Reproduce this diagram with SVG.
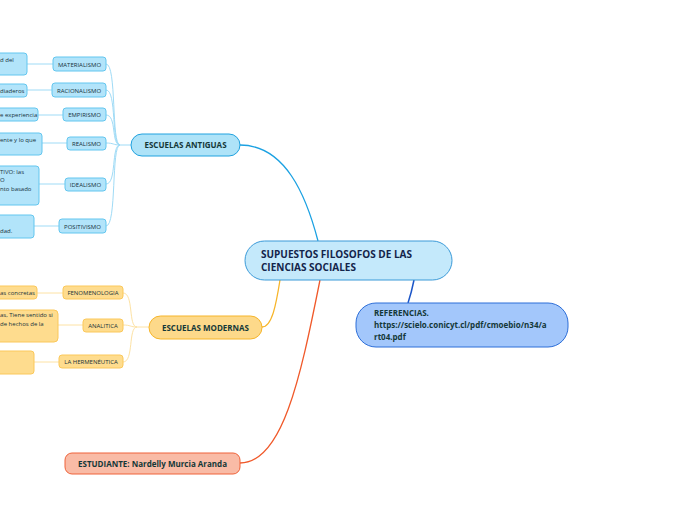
<svg xmlns="http://www.w3.org/2000/svg" width="696" height="520" viewBox="0 0 696 520">
<style>
text{font-family:"Open Sans","Noto Sans","Liberation Sans",sans-serif;fill:#17323a}
.main{font-size:10px;font-weight:bold;fill:#13244a}
.lvl1{font-size:8px;font-weight:bold;fill:#143838}
.sub{font-size:6px;text-anchor:middle}
.leaf{font-size:6px}
.bsub{fill:#b2e4fa;stroke:#63c6ef;stroke-width:1}
.osub{fill:#fedc8e;stroke:#fbc85a;stroke-width:1}
.bc{fill:none;stroke:#9fdbf6;stroke-width:1}
.oc{fill:none;stroke:#fde2a4;stroke-width:1}
</style>
<rect width="696" height="520" fill="#ffffff"/>
<g id="connectors">
<path d="M318,241 C306,195 285,145 240,145" fill="none" stroke="#1ba1e2" stroke-width="1.3"/>
<path d="M280,280 C276,305 272,327 262,327" fill="none" stroke="#f7b52a" stroke-width="1.3"/>
<path d="M320,280 C300,380 282,463 240,463" fill="none" stroke="#f0592a" stroke-width="1.3"/>
<path d="M414,280 C412,290 410,297 408,303" fill="none" stroke="#1c56c8" stroke-width="1.5"/>
<path class="bc" d="M131,145 L120,145"/>
<path class="bc" d="M120,145 C111,145 117,64 106,64"/>
<path class="bc" d="M120,145 C111,145 117,90 106,90"/>
<path class="bc" d="M120,145 C111,145 117,115 106,115"/>
<path class="bc" d="M120,145 C113,145 114,143 106,143"/>
<path class="bc" d="M120,145 C111,145 117,184 106,184"/>
<path class="bc" d="M120,145 C111,145 117,226 106,226"/>
<path class="bc" d="M53,64 L27,64"/>
<path class="bc" d="M52,90 L27,90"/>
<path class="bc" d="M63,115 L38,115"/>
<path class="bc" d="M67,143 L42,143"/>
<path class="bc" d="M65,184 L39,184"/>
<path class="bc" d="M59,226 L34,226"/>
<path class="oc" d="M149,327 L137,327"/>
<path class="oc" d="M137,327 C128,327 134,293 123,293"/>
<path class="oc" d="M137,327 C130,327 131,325 123,325"/>
<path class="oc" d="M137,327 C128,327 134,362 123,362"/>
<path class="oc" d="M63,293 L37,293"/>
<path class="oc" d="M83,325 L58,325"/>
<path class="oc" d="M59,362 L34,362"/>
</g>
<g id="central">
<rect x="245" y="241" width="207" height="39" rx="19.5" fill="#c4e9fb" stroke="#3b9ad8" stroke-width="1"/>
<text class="main" x="261" y="258">SUPUESTOS FILOSOFOS DE LAS</text>
<text class="main" x="261" y="271">CIENCIAS SOCIALES</text>
</g>
<g id="escuelas-antiguas">
<rect x="131" y="134" width="109" height="22" rx="11" fill="#aee3f8" stroke="#20a2df" stroke-width="1"/>
<text class="lvl1" x="185.5" y="148" text-anchor="middle">ESCUELAS ANTIGUAS</text>
</g>
<g id="materialismo"><rect class="bsub" x="53" y="57" width="53" height="14" rx="3"/><text class="sub" x="79.5" y="66.5">MATERIALISMO</text></g>
<g id="racionalismo"><rect class="bsub" x="52" y="83" width="54" height="14" rx="3"/><text class="sub" x="79" y="92.5">RACIONALISMO</text></g>
<g id="empirismo"><rect class="bsub" x="63" y="108" width="43" height="13" rx="3"/><text class="sub" x="84.5" y="117">EMPIRISMO</text></g>
<g id="realismo"><rect class="bsub" x="67" y="137" width="39" height="13" rx="3"/><text class="sub" x="86.5" y="145.5">REALISMO</text></g>
<g id="idealismo"><rect class="bsub" x="65" y="178" width="41" height="13" rx="3"/><text class="sub" x="85.5" y="186.5">IDEALISMO</text></g>
<g id="positivismo"><rect class="bsub" x="59" y="219" width="47" height="14" rx="3"/><text class="sub" x="82.5" y="228.5">POSITIVISMO</text></g>
<g id="leaf-materialismo"><rect class="bsub" x="-60" y="53" width="87" height="22" rx="3"/><text class="leaf" x="0" y="61.5">d del</text></g>
<g id="leaf-racionalismo"><rect class="bsub" x="-60" y="84" width="87" height="13" rx="3"/><text class="leaf" x="0" y="92.5">diaderos</text></g>
<g id="leaf-empirismo"><rect class="bsub" x="-60" y="108" width="98" height="13" rx="3"/><text class="leaf" x="0" y="117">e experiencia</text></g>
<g id="leaf-realismo"><rect class="bsub" x="-60" y="133" width="102" height="22" rx="3"/><text class="leaf" x="0" y="142">ente y lo que</text></g>
<g id="leaf-idealismo"><rect class="bsub" x="-60" y="166" width="99" height="39" rx="3"/><text class="leaf" x="0" y="174">TIVO: las</text><text class="leaf" x="0" y="182">O</text><text class="leaf" x="0" y="191">nto basado</text></g>
<g id="leaf-positivismo"><rect class="bsub" x="-60" y="215" width="94" height="23" rx="3"/><text class="leaf" x="0" y="233">dad.</text></g>
<g id="escuelas-modernas">
<rect x="149" y="316" width="113" height="23" rx="11.5" fill="#fdd98a" stroke="#f6b52b" stroke-width="1"/>
<text class="lvl1" x="205.5" y="331" text-anchor="middle">ESCUELAS MODERNAS</text>
</g>
<g id="fenomenologia"><rect class="osub" x="63" y="286" width="60" height="13" rx="3"/><text class="sub" x="93" y="294.5">FENOMENOLOGIA</text></g>
<g id="analitica"><rect class="osub" x="83" y="319" width="40" height="13" rx="3"/><text class="sub" x="103" y="327.5">ANALITICA</text></g>
<g id="hermeneutica"><rect class="osub" x="59" y="355" width="64" height="13" rx="3"/><text class="sub" x="91" y="363.5">LA HERMENÉUTICA</text></g>
<g id="leaf-fenomenologia"><rect class="osub" x="-60" y="286" width="97" height="13" rx="3"/><text class="leaf" x="0" y="294.5">as concretas</text></g>
<g id="leaf-analitica"><rect class="osub" x="-60" y="310" width="118" height="32" rx="4"/><text class="leaf" x="0" y="317">as, Tiene sentido si</text><text class="leaf" x="0" y="326">de hechos de la</text></g>
<g id="leaf-hermeneutica"><rect class="osub" x="-60" y="351" width="94" height="23" rx="3"/></g>
<g id="referencias">
<rect x="356" y="303" width="212" height="44" rx="20" fill="#a3c7fb" stroke="#2d6ed8" stroke-width="1"/>
<text class="lvl1" x="374" y="316">REFERENCIAS.</text>
<text class="lvl1" x="374" y="328">https://scielo.conicyt.cl/pdf/cmoebio/n34/a</text>
<text class="lvl1" x="374" y="339.5">rt04.pdf</text>
</g>
<g id="estudiante">
<rect x="65" y="453" width="175" height="21" rx="7" fill="#f9bba6" stroke="#ef633a" stroke-width="1"/>
<text class="lvl1" x="152.5" y="466.5" text-anchor="middle">ESTUDIANTE: Nardelly Murcia Aranda</text>
</g>
</svg>
